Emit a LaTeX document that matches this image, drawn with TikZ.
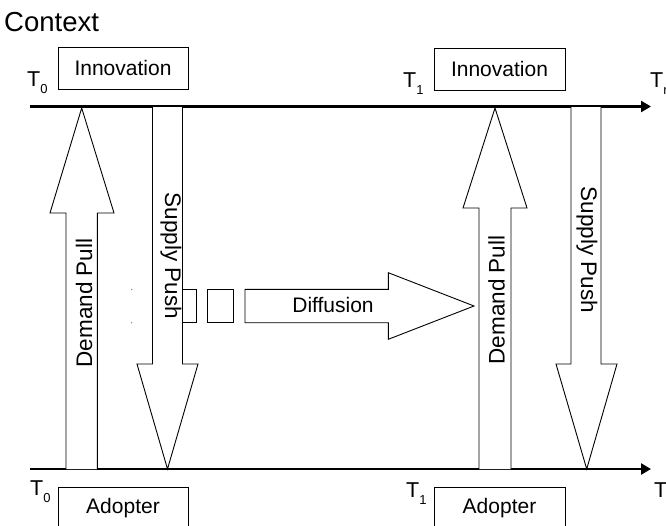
\documentclass[tikz,border=0pt]{standalone}
\usepackage{fontspec}
\setmainfont{Liberation Sans}
\usetikzlibrary{arrows.meta}

\tikzset{
  timeline/.style={line width=2.6pt, -{Triangle[length=10pt,width=11pt]}},
  blockarrow/.style={draw, line width=0.9pt, fill=white, line join=miter},
  box/.style={draw, line width=0.9pt, inner sep=0pt, fill=white},
  lbl/.style={inner sep=0pt, font=\fontsize{21}{25}\selectfont},
  vlbl/.style={inner sep=0pt, font=\fontsize{22.5}{26}\selectfont},
  tlabel/.style={inner sep=0pt, anchor=base west},
}
% time mark: a large T with a lowered small index
\newcommand{\tmark}[1]{{\fontsize{21.5}{26}\selectfont T}\raisebox{-7pt}{\fontsize{13}{15}\selectfont #1}}

\begin{document}
\begin{tikzpicture}[x=1pt, y=-1pt]
  \useasboundingbox (0,0) rectangle (666,525);
  \clip (0,0) rectangle (666,525);

  % heading
  \node[anchor=base west, inner sep=0pt, font=\fontsize{27.5}{32}\selectfont] (ctx) at (4,31) {Context};

  % the two time axes
  \coordinate (top0) at (30,106.5);
  \coordinate (top1) at (651,106.5);
  \coordinate (bot0) at (30,469);
  \coordinate (bot1) at (651,469);
  \draw[timeline] (top0) -- (top1);
  \draw[timeline] (bot0) -- (bot1);

  % time marks
  \node[tlabel] (ta0) at (27,86)  {\tmark{0}};
  \node[tlabel] (ta1) at (403,87) {\tmark{1}};
  \node[tlabel] (tan) at (650,87) {\tmark{n}};
  \node[tlabel] (tb0) at (30,495)  {\tmark{0}};
  \node[tlabel] (tb1) at (406,497) {\tmark{1}};
  \node[tlabel] (tbn) at (654,497) {\tmark{n}};

  % innovation and adopter boxes
  \node[box, lbl, minimum width=130pt, minimum height=42pt] (inn0) at (123,68)   {Innovation};
  \node[box, lbl, minimum width=131pt, minimum height=42pt] (inn1) at (499.5,69) {Innovation};
  \node[box, lbl, anchor=north, minimum width=130pt, inner ysep=11pt, text depth=40pt] (adp0) at (123,487)   {Adopter};
  \node[box, lbl, anchor=north, minimum width=131pt, inner ysep=11pt, text depth=40pt] (adp1) at (499.5,487) {Adopter};

  % demand pull at T0 (upwards)
  \draw[blockarrow] (66,469) -- (66,213) -- (50,213) -- (81.7,108) -- (114,213) -- (97.3,213) -- (97.3,469);
  \node[vlbl, rotate=90] (dp0) at (84,303) {Demand Pull};

  % supply push at T0 (downwards)
  \draw[blockarrow] (152.5,107) -- (152.5,364) -- (137,364) -- (167.5,469) -- (198,364) -- (182.5,364) -- (182.5,107);
  \node[vlbl, rotate=-90] (sp0) at (171,256) {Supply Push};

  % diffusion from T0 to T1
  \draw[line width=0.9pt] (182.7,289.3) rectangle (196.7,322.7);
  \draw[line width=0.9pt] (207.3,289.3) rectangle (233.3,322.7);
  \draw[blockarrow] (245,289.3) -- (388.3,289.3) -- (388.3,272.7) -- (474,306) -- (388.3,339.3) -- (388.3,322.7) -- (245,322.7) -- cycle;
  \node[lbl] (dif) at (333,305) {Diffusion};
  \fill[black!60] (131.7,289.5) circle (0.6pt);
  \fill[black!60] (131.7,322.7) circle (0.6pt);

  % demand pull at T1 (upwards)
  \draw[blockarrow] (479,469) -- (479,208) -- (463,208) -- (495,108) -- (527,208) -- (511,208) -- (511,469);
  \node[vlbl, rotate=90] (dp1) at (496.5,300) {Demand Pull};

  % supply push at T1 (downwards)
  \draw[blockarrow] (571,107) -- (571,364) -- (556,364) -- (586.7,469) -- (617,364) -- (601,364) -- (601,107);
  \node[vlbl, rotate=-90] (sp1) at (587,250) {Supply Push};
\end{tikzpicture}
\end{document}
